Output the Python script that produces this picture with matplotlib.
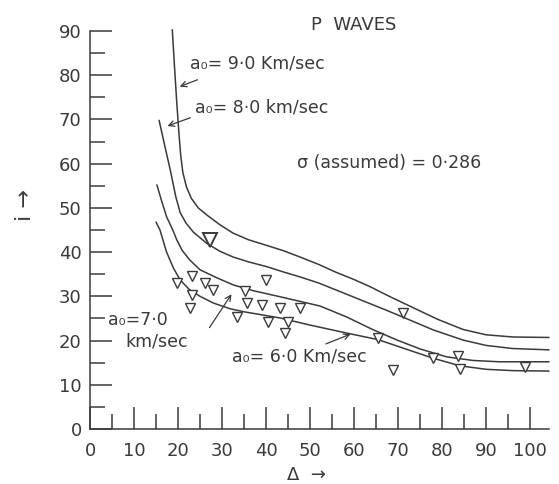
"""P waves: angle of incidence i against epicentral distance for several a0."""

import matplotlib.pyplot as plt

# traced curves (delta in degrees, i in degrees)
x_a9 = [18.7, 19.2, 19.7, 20.2, 20.6, 21.1, 21.9, 23.0, 24.6, 26.8, 29.5, 32.5, 36.0,
        40.2, 44.0, 47.7, 52.0, 56.0, 60.0, 63.6, 68.0, 73.5, 79.0, 84.8, 90.0, 96.2, 104.3]
y_a9 = [90.3, 82.0, 74.0, 67.0, 62.0, 58.0, 54.8, 52.2, 50.0, 48.2, 46.2, 44.3, 42.8,
        41.5, 40.3, 38.9, 37.2, 35.4, 33.8, 32.2, 30.0, 27.4, 24.8, 22.5, 21.3, 20.8, 20.7]

x_a8 = [15.7, 17.0, 18.3, 19.5, 20.5, 21.8, 23.5, 26.5, 29.5, 32.5, 36.0, 40.2, 44.0,
        47.7, 52.0, 57.5, 63.0, 67.0, 71.1, 78.0, 84.8, 90.0, 96.0, 104.3]
y_a8 = [69.8, 64.0, 58.3, 52.5, 48.9, 46.6, 44.5, 42.0, 40.2, 38.9, 37.8, 36.7, 35.5,
        34.4, 33.0, 30.8, 28.6, 27.0, 25.3, 22.4, 20.1, 18.9, 18.2, 17.9]

x_a7 = [15.2, 16.3, 17.4, 18.9, 19.7, 21.0, 22.7, 25.0, 28.8, 32.5, 37.0, 43.2, 48.0,
        52.3, 58.4, 64.0, 69.8, 75.0, 81.1, 87.0, 93.0, 104.3]
y_a7 = [55.2, 51.5, 48.0, 44.8, 42.8, 40.3, 38.2, 36.0, 34.2, 32.6, 31.3, 29.9, 28.8,
        27.8, 25.3, 22.6, 20.1, 18.1, 16.3, 15.5, 15.2, 15.2]

x_a6 = [15.0, 15.9, 17.4, 19.0, 20.5, 22.5, 25.0, 28.0, 31.8, 35.0, 38.6, 43.2, 50.0,
        58.3, 65.5, 72.0, 78.0, 84.0, 90.0, 96.0, 104.3]
y_a6 = [46.8, 45.0, 40.0, 36.3, 33.7, 31.6, 30.0, 28.5, 27.2, 26.5, 25.9, 25.1, 23.5,
        21.7, 20.2, 18.0, 16.0, 14.3, 13.5, 13.2, 13.1]

# observed points
obs_x = [19.7, 23.1, 23.1, 22.7, 26.1, 28.0, 35.2, 35.6, 39.0, 43.2, 47.7, 40.0,
         33.3, 40.5, 45.1, 44.3, 71.2, 65.5, 68.9, 78.0, 83.7, 84.1, 98.9]
obs_y = [33.0, 34.5, 30.3, 27.3, 33.0, 31.4, 31.1, 28.4, 28.1, 27.3, 27.3, 33.7,
         25.4, 24.3, 24.3, 21.7, 26.2, 20.5, 13.3, 16.0, 16.4, 13.5, 14.0]
big_x = [27.3]
big_y = [42.8]

ink = "#3a3a3a"
plt.rcParams["font.family"] = ["DejaVu Sans"]

fig = plt.figure(figsize=(5.59, 4.84), dpi=100)
ax = fig.add_axes([90 / 559, 1 - 429 / 484, 459 / 559, 398 / 484])

for xs, ys in [(x_a9, y_a9), (x_a8, y_a8), (x_a7, y_a7), (x_a6, y_a6)]:
    ax.plot(xs, ys, color=ink, lw=1.1, clip_on=False, solid_capstyle="round",
            solid_joinstyle="round")

ax.plot(obs_x, obs_y, "v", ms=7, mfc="white", mec=ink, mew=1.0, ls="none", clip_on=False)
ax.plot(big_x, big_y, "v", ms=10, mfc="white", mec=ink, mew=1.4, ls="none")

ax.set_xlim(0, 104.3)
ax.set_ylim(0, 90)
for side in ["top", "right"]:
    ax.spines[side].set_visible(False)
for side in ["left", "bottom"]:
    ax.spines[side].set_color(ink)
    ax.spines[side].set_linewidth(1.1)

ax.set_xticks(range(0, 101, 10))
ax.set_xticks(range(5, 100, 10), minor=True)
ax.set_yticks(range(0, 91, 10))
ax.set_yticks(range(5, 90, 10), minor=True)
ax.tick_params(which="major", direction="in", length=16, width=1.1, color=ink,
               labelsize=13, labelcolor=ink)
ax.tick_params(which="minor", direction="in", length=11, width=1.1, color=ink)
ax.tick_params(axis="x", pad=9)
ax.tick_params(axis="y", pad=6)

# labels on the curves
txt = dict(color=ink, fontsize=12.5, ha="left", va="center")
arr = dict(arrowstyle="->", color=ink, lw=0.9)
ax.text(60, 91.4, "P  WAVES", color=ink, fontsize=13, ha="center", va="center")
ax.text(22.7, 82.6, "a\u2080= 9\u00b70 Km/sec", **txt)
ax.annotate("", xy=(19.8, 77.2), xytext=(25.0, 79.2), arrowprops=arr)
ax.text(23.9, 72.6, "a\u2080= 8\u00b70 km/sec", **txt)
ax.annotate("", xy=(17.0, 68.3), xytext=(23.4, 70.6), arrowprops=arr)
ax.text(47.0, 60.2, "\u03c3 (assumed) = 0\u00b7286", **txt)
ax.text(4.1, 24.7, "a\u2080=7\u00b70", **txt)
ax.text(8.0, 19.7, "km/sec", **txt)
ax.annotate("", xy=(32.5, 31.0), xytext=(26.8, 22.4), arrowprops=arr)
ax.text(32.3, 16.3, "a\u2080= 6\u00b70 Km/sec", **txt)
ax.annotate("", xy=(59.8, 21.7), xytext=(53.0, 19.0), arrowprops=arr)

ax.text(49.3, -10.4, "\u0394  \u2192", color=ink, fontsize=13, ha="center", va="center")
ax.text(-14.8, 50.7, "i \u2192", color=ink, fontsize=16, rotation=90,
        ha="center", va="center")

fig.savefig("out.png", dpi=100, facecolor="white")
